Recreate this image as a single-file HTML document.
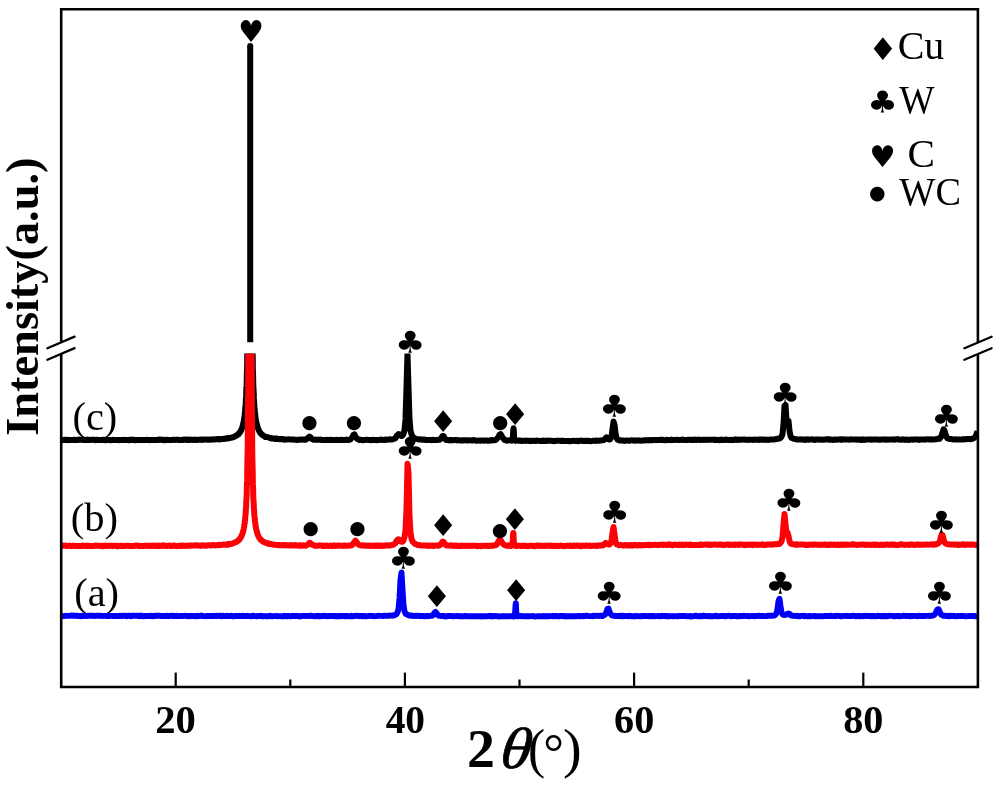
<!DOCTYPE html>
<html lang="en"><head><meta charset="utf-8"><title>XRD patterns</title>
<style>
html,body{margin:0;padding:0;background:#fff;}
body{width:1000px;height:785px;overflow:hidden;position:relative;font-family:"Liberation Serif","DejaVu Serif",serif;}
svg{position:absolute;left:0;top:0;display:block;}
text{fill:#000;}
.s{font-family:"Liberation Serif","DejaVu Serif",serif;}
.y{font-family:"DejaVu Sans","Liberation Sans",sans-serif;}
.m{font-family:"DejaVu Sans Mono","DejaVu Sans",monospace;}
.xl{position:absolute;left:0;top:0;width:0;height:0;color:#000;}
.xl span{position:absolute;display:block;line-height:1;white-space:pre;}
</style></head><body>
<svg width="1000" height="785" viewBox="0 0 1000 785">
<rect x="0" y="0" width="1000" height="785" fill="#fff"/>
<defs><clipPath id="low"><rect x="61.2" y="353.6" width="916.7" height="330"/></clipPath></defs>
<text class="s" transform="translate(72.50 429.71) scale(1.010 1)" font-size="39.96">(c)</text>
<text class="s" transform="translate(70.74 530.80) scale(1.012 1)" font-size="40.02">(b)</text>
<text class="s" transform="translate(74.25 605.60) scale(1.008 1)" font-size="40.02">(a)</text>
<g fill="none" stroke-linejoin="round" stroke-linecap="butt">
<g clip-path="url(#low)"><path d="M61.5 440.0L62.5 440.0L63.5 439.9L64.5 439.8L65.5 439.9L66.5 439.8L67.5 440.0L68.5 440.2L69.5 439.9L70.5 439.9L71.5 440.1L72.5 440.0L73.5 440.0L74.5 439.8L75.5 440.0L76.5 440.1L77.5 439.7L78.5 439.9L79.5 439.6L80.5 439.7L81.5 439.6L82.5 439.9L83.5 439.8L84.5 440.0L85.5 440.0L86.5 439.9L87.5 439.5L88.5 439.9L89.5 440.0L90.5 440.0L91.5 439.7L92.5 439.9L93.5 439.8L94.5 439.8L95.5 440.2L96.5 439.8L97.5 440.0L98.5 440.1L99.5 439.9L100.5 440.0L101.5 440.0L102.5 440.0L103.5 439.8L104.5 440.0L105.5 440.2L106.5 439.7L107.5 440.1L108.5 440.0L109.5 439.9L110.5 440.3L111.5 440.1L112.5 439.8L113.5 440.0L114.5 440.1L115.5 439.9L116.5 440.1L117.5 440.0L118.5 440.1L119.5 440.2L120.5 439.9L121.5 440.0L122.5 439.9L123.5 440.0L124.5 439.8L125.5 439.9L126.5 439.9L127.5 440.1L128.5 440.2L129.5 439.7L130.5 439.8L131.5 440.1L132.5 439.6L133.5 439.9L134.5 440.0L135.5 440.2L136.5 440.1L137.5 439.9L138.5 439.9L139.5 439.9L140.5 440.2L141.5 439.9L142.5 439.9L143.5 440.0L144.5 439.9L145.5 439.9L146.5 439.8L147.5 440.0L148.5 439.9L149.5 440.2L150.5 440.1L151.5 440.0L152.5 440.1L153.5 439.9L154.5 440.1L155.5 440.0L156.5 440.1L157.5 439.7L158.5 440.0L159.5 439.6L160.5 439.6L161.5 439.9L162.5 439.8L163.5 440.0L164.5 440.3L165.5 439.8L166.5 439.8L167.5 440.0L168.5 440.0L169.5 439.9L170.5 439.9L171.5 440.0L172.5 440.0L173.5 439.7L174.5 439.9L175.5 439.9L176.5 439.7L177.5 439.9L178.5 439.7L179.5 440.1L180.5 439.9L181.5 439.9L182.5 439.8L183.5 439.9L184.5 439.5L185.5 439.7L186.5 439.9L187.5 439.5L188.5 440.0L189.5 439.5L190.5 440.0L191.5 439.7L192.5 440.0L193.5 439.8L194.5 439.5L195.5 440.0L196.5 440.0L197.5 439.8L198.5 439.7L199.5 439.7L200.5 439.6L201.5 439.9L202.5 439.6L203.5 439.7L204.5 439.5L205.5 439.5L206.5 439.4L207.5 439.8L208.5 439.6L209.5 439.7L210.5 439.5L211.5 439.4L212.5 439.4L213.5 439.3L214.5 439.4L215.5 439.3L216.5 439.3L217.5 439.0L218.5 439.1L219.5 439.5L220.5 439.0L221.5 438.9L222.5 439.0L223.5 439.1L224.5 438.5L225.5 438.7L226.5 438.5L227.5 438.1L228.5 438.4L229.5 438.1L230.5 437.9L231.5 437.5L232.5 437.5L233.5 437.0L234.5 436.6L235.5 436.0L235.9 435.7L236.1 435.9L236.2 435.8L236.2 435.8L236.3 435.7L236.4 435.6L236.5 435.6L236.6 435.6L236.7 435.5L236.8 435.5L236.8 435.4L236.9 435.3L237.1 435.3L237.2 435.2L237.2 435.1L237.3 435.0L237.4 435.0L237.5 434.9L237.6 434.9L237.7 434.8L237.8 434.7L237.8 434.6L237.9 434.6L238.1 434.4L238.2 434.4L238.2 434.2L238.3 434.2L238.4 434.1L238.5 434.0L238.6 434.0L238.7 433.9L238.8 433.7L238.8 433.6L238.9 433.6L239.1 433.4L239.2 433.3L239.2 433.2L239.3 433.0L239.4 432.9L239.5 432.9L239.6 432.8L239.7 432.7L239.8 432.5L239.8 432.4L239.9 432.2L240.1 432.1L240.2 431.9L240.2 431.8L240.3 431.6L240.4 431.5L240.5 431.4L240.6 431.3L240.7 431.1L240.8 430.9L240.8 430.7L240.9 430.6L241.1 430.3L241.2 430.1L241.2 429.9L241.3 429.7L241.4 429.5L241.5 429.4L241.6 429.2L241.7 429.0L241.8 428.7L241.8 428.5L241.9 428.2L242.1 428.0L242.2 427.7L242.2 427.4L242.3 427.1L242.4 426.7L242.5 426.5L242.6 426.4L242.7 426.0L242.8 425.6L242.8 425.3L242.9 425.0L243.1 424.6L243.2 424.1L243.2 423.7L243.3 423.3L243.4 422.8L243.5 422.5L243.6 422.3L243.7 421.8L243.8 421.3L243.8 420.7L243.9 420.1L244.1 419.5L244.2 418.9L244.2 418.2L244.3 417.5L244.4 416.7L244.5 416.3L244.6 416.0L244.7 415.1L244.8 414.3L244.8 413.4L244.9 412.4L245.1 411.4L245.2 410.3L245.2 409.1L245.3 408.0L245.4 406.7L245.5 406.1L245.6 405.3L245.7 403.9L245.8 402.4L245.8 400.8L245.9 399.0L246.1 397.1L246.2 395.1L246.2 392.9L246.3 390.5L246.4 388.0L246.5 386.7L246.6 385.2L246.7 382.2L246.8 379.0L246.8 375.4L246.9 371.5L247.1 367.2L247.2 362.5L247.2 357.2L247.3 351.4L247.4 344.9L247.5 341.3L247.6 337.6L247.7 329.3L247.8 320.0L247.8 310.0L247.9 310.0L248.1 310.0L248.2 310.0L248.2 310.0L248.3 310.0L248.4 310.0L248.5 310.0L248.6 310.0L248.7 310.0L248.8 310.0L248.8 310.0L248.9 310.0L249.1 310.0L249.2 310.0L249.2 310.0L249.3 310.0L249.4 310.0L249.5 310.0L249.6 310.0L249.7 310.0L249.8 310.0L249.8 310.0L249.9 310.0L250.1 310.0L250.2 310.0L250.2 310.0L250.3 310.0L250.4 310.0L250.5 310.0L250.6 310.0L250.7 310.0L250.8 310.0L250.8 310.0L250.9 310.0L251.1 310.0L251.2 310.0L251.2 310.0L251.3 310.0L251.4 310.0L251.5 310.0L251.6 310.0L251.7 310.0L251.8 310.0L251.8 310.0L251.9 310.0L252.1 310.0L252.2 320.0L252.2 329.3L252.3 337.6L252.4 344.9L252.5 348.2L252.6 351.4L252.7 357.2L252.8 362.5L252.8 367.2L252.9 371.5L253.1 375.4L253.2 378.9L253.2 382.2L253.3 385.2L253.4 388.0L253.5 389.3L253.6 390.5L253.7 392.9L253.8 395.0L253.8 397.1L253.9 399.0L254.1 400.8L254.2 402.4L254.2 403.9L254.3 405.4L254.4 406.7L254.5 407.4L254.6 408.0L254.7 409.2L254.8 410.3L254.8 411.4L254.9 412.4L255.1 413.4L255.2 414.3L255.2 415.1L255.3 416.0L255.4 416.7L255.5 417.1L255.6 417.5L255.7 418.2L255.8 418.8L255.8 419.5L255.9 420.1L256.1 420.7L256.1 421.3L256.2 421.7L256.4 422.3L256.4 422.8L256.5 423.0L256.6 423.2L256.6 423.7L256.8 424.1L256.9 424.5L256.9 424.9L257.1 425.4L257.1 425.7L257.2 426.0L257.4 426.4L257.4 426.8L257.5 426.9L257.6 427.1L257.6 427.4L257.8 427.7L257.9 428.0L257.9 428.2L258.1 428.5L258.1 428.8L258.2 429.0L258.4 429.2L258.4 429.5L258.5 429.6L258.6 429.7L258.6 430.0L258.8 430.2L258.9 430.3L258.9 430.5L259.1 430.7L259.1 430.9L259.2 431.1L259.4 431.3L259.4 431.5L259.5 431.5L259.6 431.6L259.6 431.8L259.8 432.0L259.9 432.1L259.9 432.3L260.1 432.4L260.1 432.5L260.2 432.7L260.4 432.8L260.4 433.0L260.5 433.0L260.6 433.1L260.6 433.2L260.8 433.3L260.9 433.4L260.9 433.5L261.1 433.7L261.1 433.8L261.2 433.9L261.4 434.0L261.4 434.1L261.5 434.1L261.6 434.2L261.6 434.3L261.8 434.3L261.9 434.5L261.9 434.5L262.1 434.6L262.1 434.7L262.2 434.8L262.4 434.9L262.4 434.9L262.5 435.0L262.6 435.0L262.6 435.1L262.8 435.2L262.9 435.3L262.9 435.3L263.1 435.4L263.1 435.5L263.2 435.5L263.4 435.6L263.4 435.6L263.5 435.7L263.6 435.7L263.6 435.8L263.8 435.9L263.9 435.9L264.5 436.3L265.5 437.1L266.5 436.9L267.5 437.2L268.5 437.5L269.5 437.7L270.5 438.3L271.5 438.5L272.5 438.3L273.5 438.4L274.5 438.7L275.5 439.1L276.5 438.4L277.5 439.1L278.5 438.9L279.5 439.3L280.5 439.0L281.5 439.2L282.5 439.0L283.5 439.2L284.5 439.7L285.5 439.6L286.5 439.4L287.5 439.4L288.5 439.2L289.5 439.5L290.5 439.6L291.5 439.6L292.5 439.6L293.5 439.5L294.5 439.7L295.5 439.7L296.5 439.9L297.5 440.0L298.5 439.7L299.5 439.6L300.5 439.7L301.5 439.6L302.5 439.6L303.5 439.7L304.5 439.5L305.5 439.7L306.5 439.3L307.5 438.7L308.5 437.4L309.5 436.6L310.5 437.3L311.5 438.6L312.5 439.3L313.5 439.7L314.5 439.7L315.5 439.6L316.5 439.8L317.5 439.6L318.5 439.8L319.5 439.8L320.5 439.5L321.5 439.9L322.5 440.0L323.5 439.9L324.5 439.9L325.5 439.9L326.5 439.8L327.5 439.9L328.5 439.9L329.5 440.0L330.5 439.8L331.5 440.0L332.5 440.0L333.5 439.9L334.5 439.9L335.5 440.1L336.5 439.7L337.5 440.1L338.5 440.0L339.5 440.0L340.5 440.0L341.5 439.8L342.5 439.9L343.5 440.1L344.5 440.0L345.5 439.9L346.5 439.6L347.5 439.9L348.5 439.9L349.5 439.8L350.5 439.3L351.5 438.1L352.5 436.9L353.5 434.8L354.5 434.4L355.5 436.8L356.5 438.1L357.5 439.0L358.5 439.5L359.5 440.0L360.5 439.8L361.5 439.9L362.5 440.2L363.5 440.2L364.5 439.9L365.5 439.9L366.5 439.7L367.5 439.8L368.5 440.1L369.5 440.1L370.5 440.0L371.5 440.2L372.5 439.8L373.5 440.0L374.5 440.1L375.5 440.1L376.5 440.2L377.5 440.0L378.5 439.9L379.5 440.0L380.5 439.7L381.5 439.6L382.5 440.0L383.5 439.9L384.5 439.9L385.5 439.5L386.5 439.7L387.5 439.7L388.5 439.6L389.5 439.3L390.5 439.5L391.5 439.6L392.5 439.4L393.5 439.0L394.5 438.7L395.5 438.1L396.5 436.1L397.5 435.0L398.5 434.0L399.5 434.3L400.5 435.5L401.5 436.0L402.5 435.5L403.5 434.0L404.5 430.3L405.5 418.9L406.5 386.7L407.5 353.1L408.5 387.1L409.5 419.1L410.5 430.4L411.5 434.4L412.5 436.6L413.5 437.4L414.5 438.4L415.5 438.4L416.5 438.9L417.5 439.1L418.5 439.4L419.5 439.6L420.5 439.3L421.5 439.5L422.5 439.8L423.5 439.6L424.5 439.5L425.5 440.0L426.5 440.0L427.5 440.0L428.5 439.9L429.5 440.1L430.5 439.9L431.5 440.2L432.5 439.8L433.5 439.9L434.5 440.0L435.5 439.9L436.5 440.1L437.5 440.0L438.5 439.7L439.5 439.7L440.5 439.0L441.5 437.9L442.5 435.9L443.5 436.0L444.5 437.9L445.5 439.5L446.5 440.1L447.5 440.0L448.5 440.1L449.5 440.4L450.5 440.1L451.5 440.0L452.5 440.2L453.5 440.3L454.5 440.1L455.5 440.0L456.5 440.0L457.5 440.4L458.5 440.2L459.5 440.3L460.5 440.4L461.5 440.5L462.5 440.3L463.5 440.5L464.5 440.2L465.5 440.3L466.5 440.2L467.5 440.6L468.5 440.4L469.5 440.3L470.5 440.3L471.5 440.4L472.5 440.6L473.5 440.1L474.5 440.2L475.5 440.4L476.5 440.9L477.5 440.6L478.5 440.4L479.5 440.6L480.5 440.8L481.5 440.4L482.5 440.4L483.5 440.7L484.5 440.6L485.5 440.6L486.5 440.4L487.5 440.8L488.5 440.7L489.5 440.5L490.5 440.5L491.5 440.0L492.5 440.4L493.5 440.2L494.5 440.2L495.5 440.1L496.5 439.4L497.5 438.2L498.5 436.8L499.5 434.7L500.5 434.1L501.5 435.5L502.5 437.5L503.5 438.6L504.5 440.0L505.5 440.2L506.5 440.5L507.5 440.7L508.5 440.4L509.5 440.2L510.5 440.3L510.8 440.3L511 440.4L511.2 440.5L511.5 440.1L511.8 440.5L512 440.1L512.2 440.4L512.5 440.0L512.8 438.7L513 435.6L513.2 430.9L513.5 428.3L513.8 430.7L514 435.7L514.2 439.2L514.5 440.4L514.8 440.6L515 440.6L515.2 440.4L515.5 440.8L515.8 440.6L516 440.6L516.2 440.6L516.5 440.6L517.5 440.6L518.5 440.7L519.5 440.5L520.5 440.6L521.5 441.1L522.5 440.7L523.5 440.7L524.5 440.8L525.5 440.9L526.5 440.6L527.5 440.7L528.5 440.9L529.5 440.8L530.5 440.8L531.5 441.1L532.5 440.7L533.5 440.8L534.5 440.7L535.5 441.1L536.5 440.5L537.5 440.7L538.5 440.7L539.5 441.0L540.5 441.0L541.5 441.1L542.5 440.6L543.5 441.0L544.5 440.8L545.5 440.8L546.5 441.0L547.5 440.7L548.5 440.5L549.5 440.8L550.5 440.6L551.5 440.8L552.5 441.0L553.5 441.0L554.5 441.2L555.5 440.9L556.5 440.7L557.5 440.8L558.5 440.8L559.5 440.7L560.5 441.0L561.5 440.9L562.5 440.6L563.5 441.1L564.5 440.9L565.5 441.0L566.5 441.0L567.5 441.1L568.5 441.0L569.5 441.2L570.5 441.0L571.5 441.0L572.5 441.0L573.5 440.7L574.5 440.9L575.5 440.9L576.5 441.0L577.5 440.7L578.5 441.2L579.5 440.9L580.5 440.7L581.5 440.6L582.5 440.9L583.5 440.9L584.5 440.8L585.5 440.9L586.5 440.8L587.5 441.0L588.5 440.8L589.5 440.9L590.5 441.1L591.5 441.3L592.5 440.7L593.5 440.8L594.5 440.7L595.5 441.0L596.5 440.6L597.5 440.7L598.5 440.8L599.5 440.6L600.5 440.5L601.5 440.5L602.5 440.2L603.5 440.0L604.5 439.5L605.5 438.2L606.5 437.3L607.5 438.2L608.5 439.4L609.5 439.6L610.5 438.8L611.5 436.1L612.5 429.1L613.5 421.4L614.5 424.6L615.5 433.1L616.5 437.8L617.5 439.7L618.5 440.0L619.5 440.4L620.5 440.3L621.5 440.6L622.5 440.4L623.5 440.5L624.5 441.0L625.5 440.7L626.5 440.5L627.5 440.6L628.5 440.6L629.5 440.8L630.5 440.5L631.5 440.2L632.5 440.5L633.5 440.5L634.5 440.5L635.5 440.7L636.5 440.5L637.5 440.6L638.5 440.2L639.5 440.6L640.5 440.8L641.5 440.5L642.5 440.4L643.5 440.4L644.5 440.6L645.5 440.1L646.5 440.3L647.5 440.3L648.5 440.4L649.5 440.1L650.5 440.2L651.5 440.1L652.5 440.2L653.5 440.1L654.5 439.9L655.5 440.1L656.5 440.2L657.5 439.9L658.5 440.0L659.5 440.1L660.5 439.8L661.5 440.0L662.5 439.7L663.5 440.1L664.5 440.3L665.5 440.2L666.5 439.8L667.5 440.0L668.5 439.9L669.5 439.9L670.5 440.2L671.5 439.6L672.5 440.1L673.5 439.9L674.5 440.1L675.5 439.9L676.5 439.7L677.5 439.9L678.5 440.0L679.5 439.9L680.5 439.9L681.5 439.8L682.5 439.5L683.5 440.0L684.5 440.0L685.5 439.9L686.5 439.9L687.5 440.0L688.5 439.8L689.5 439.7L690.5 439.8L691.5 440.1L692.5 439.6L693.5 440.1L694.5 439.7L695.5 439.6L696.5 440.1L697.5 439.8L698.5 439.6L699.5 439.8L700.5 440.0L701.5 440.0L702.5 439.7L703.5 439.9L704.5 440.0L705.5 439.7L706.5 439.9L707.5 439.8L708.5 439.7L709.5 439.7L710.5 439.8L711.5 439.8L712.5 439.7L713.5 439.7L714.5 440.0L715.5 439.8L716.5 440.0L717.5 440.0L718.5 439.9L719.5 440.2L720.5 439.6L721.5 439.9L722.5 439.7L723.5 440.1L724.5 440.1L725.5 439.4L726.5 439.6L727.5 439.9L728.5 439.9L729.5 439.9L730.5 439.8L731.5 439.9L732.5 439.9L733.5 439.8L734.5 440.0L735.5 439.4L736.5 439.9L737.5 439.6L738.5 439.9L739.5 439.7L740.5 439.6L741.5 439.8L742.5 439.6L743.5 439.6L744.5 439.5L745.5 439.7L746.5 439.8L747.5 439.9L748.5 439.7L749.5 439.9L750.5 439.7L751.5 439.7L752.5 439.8L753.5 439.9L754.5 439.6L755.5 439.7L756.5 439.7L757.5 439.7L758.5 439.5L759.5 439.9L760.5 439.6L761.5 439.7L762.5 439.5L763.5 439.7L764.5 439.7L765.5 439.5L766.5 440.0L767.5 439.7L768.5 439.9L769.5 439.7L770.5 439.4L771.5 439.4L772.5 439.5L773.5 439.4L774.5 439.4L775.5 439.2L776.5 438.8L777.5 439.0L778.5 438.4L779.5 438.5L780.5 437.8L781.5 436.8L782.5 434.0L783.5 424.3L784.5 405.8L785.5 404.9L786.5 419.7L787.5 421.0L788.5 420.9L789.5 430.8L790.5 435.9L791.5 437.9L792.5 438.2L793.5 438.8L794.5 438.9L795.5 439.1L796.5 439.3L797.5 439.6L798.5 439.4L799.5 439.4L800.5 439.3L801.5 439.6L802.5 439.5L803.5 439.7L804.5 439.5L805.5 439.9L806.5 439.2L807.5 439.5L808.5 439.7L809.5 439.5L810.5 439.4L811.5 439.5L812.5 439.3L813.5 439.6L814.5 440.0L815.5 439.8L816.5 439.4L817.5 439.5L818.5 439.5L819.5 439.8L820.5 439.5L821.5 439.5L822.5 439.8L823.5 439.8L824.5 439.5L825.5 439.4L826.5 439.3L827.5 439.5L828.5 439.2L829.5 439.7L830.5 439.5L831.5 439.7L832.5 439.9L833.5 439.8L834.5 439.4L835.5 439.8L836.5 439.8L837.5 439.5L838.5 439.4L839.5 439.6L840.5 439.3L841.5 439.9L842.5 439.2L843.5 439.4L844.5 439.6L845.5 439.6L846.5 439.6L847.5 439.6L848.5 439.6L849.5 439.8L850.5 439.2L851.5 439.6L852.5 439.5L853.5 439.6L854.5 439.6L855.5 439.4L856.5 439.5L857.5 439.7L858.5 439.6L859.5 439.5L860.5 439.9L861.5 440.0L862.5 439.3L863.5 439.6L864.5 440.0L865.5 439.7L866.5 439.6L867.5 439.5L868.5 439.5L869.5 439.5L870.5 439.5L871.5 439.7L872.5 439.5L873.5 439.5L874.5 439.4L875.5 439.6L876.5 439.4L877.5 439.5L878.5 439.8L879.5 439.6L880.5 439.7L881.5 439.6L882.5 439.6L883.5 439.6L884.5 439.5L885.5 439.7L886.5 439.4L887.5 439.8L888.5 439.6L889.5 439.4L890.5 439.5L891.5 439.5L892.5 439.6L893.5 439.4L894.5 439.8L895.5 439.4L896.5 439.2L897.5 439.4L898.5 439.2L899.5 439.6L900.5 439.8L901.5 439.7L902.5 439.3L903.5 439.4L904.5 439.9L905.5 439.6L906.5 439.6L907.5 439.8L908.5 440.0L909.5 439.8L910.5 439.6L911.5 439.6L912.5 439.7L913.5 439.5L914.5 439.4L915.5 439.6L916.5 439.4L917.5 439.5L918.5 439.6L919.5 440.0L920.5 439.4L921.5 439.5L922.5 439.5L923.5 439.6L924.5 439.7L925.5 439.4L926.5 439.4L927.5 439.2L928.5 439.3L929.5 439.6L930.5 439.5L931.5 439.3L932.5 439.4L933.5 439.4L934.5 439.5L935.5 439.2L936.5 439.2L937.5 438.8L938.5 438.7L939.5 438.9L940.5 437.4L941.5 435.8L942.5 432.5L943.5 429.4L944.5 430.5L945.5 434.3L946.5 437.0L947.5 438.3L948.5 438.5L949.5 439.0L950.5 439.0L951.5 439.1L952.5 439.3L953.5 439.4L954.5 439.5L955.5 439.3L956.5 439.6L957.5 439.6L958.5 439.6L959.5 439.6L960.5 439.4L961.5 439.4L962.5 439.5L963.5 439.1L964.5 439.4L965.5 439.2L966.5 439.2L967.5 438.9L968.5 439.0L969.5 439.1L970.5 439.2L971.5 439.0L972.5 438.6L973.5 438.3L974.5 437.5L975.5 436.4L976.5 434.1L977.5 431.2" stroke="#000" stroke-width="6"/></g>
<path d="M250.2 342.2V46" stroke="#000" stroke-width="6"/>
<circle cx="250.2" cy="46" r="3" fill="#000" stroke="none"/>
<g clip-path="url(#low)"><path d="M61.5 546.2L62.5 545.9L63.5 545.6L64.5 545.7L65.5 545.6L66.5 545.7L67.5 546.1L68.5 545.9L69.5 545.6L70.5 546.0L71.5 546.1L72.5 545.8L73.5 545.8L74.5 545.8L75.5 545.9L76.5 546.0L77.5 546.1L78.5 546.1L79.5 546.1L80.5 546.1L81.5 546.0L82.5 545.6L83.5 545.8L84.5 545.9L85.5 545.8L86.5 546.0L87.5 545.8L88.5 545.7L89.5 546.1L90.5 546.0L91.5 545.9L92.5 546.0L93.5 546.1L94.5 545.9L95.5 545.4L96.5 545.7L97.5 545.8L98.5 545.7L99.5 545.9L100.5 546.1L101.5 545.8L102.5 545.7L103.5 546.2L104.5 545.8L105.5 545.6L106.5 545.9L107.5 545.9L108.5 545.7L109.5 546.0L110.5 545.8L111.5 545.7L112.5 545.9L113.5 546.0L114.5 545.7L115.5 545.9L116.5 545.8L117.5 546.4L118.5 545.7L119.5 546.1L120.5 545.8L121.5 545.8L122.5 546.0L123.5 546.0L124.5 546.1L125.5 545.9L126.5 545.7L127.5 545.7L128.5 545.9L129.5 545.9L130.5 546.1L131.5 545.9L132.5 546.0L133.5 546.1L134.5 545.9L135.5 545.6L136.5 545.6L137.5 545.6L138.5 546.1L139.5 545.7L140.5 546.1L141.5 545.9L142.5 546.1L143.5 546.0L144.5 545.8L145.5 545.8L146.5 545.8L147.5 545.9L148.5 545.7L149.5 545.8L150.5 546.1L151.5 545.5L152.5 545.9L153.5 545.7L154.5 545.8L155.5 546.0L156.5 545.8L157.5 545.9L158.5 545.5L159.5 546.0L160.5 545.7L161.5 545.9L162.5 545.8L163.5 545.3L164.5 545.7L165.5 545.8L166.5 546.1L167.5 545.8L168.5 545.8L169.5 545.5L170.5 546.0L171.5 546.1L172.5 545.8L173.5 545.7L174.5 545.5L175.5 545.9L176.5 546.2L177.5 545.9L178.5 546.0L179.5 545.8L180.5 545.6L181.5 546.0L182.5 545.5L183.5 545.7L184.5 545.8L185.5 545.9L186.5 545.8L187.5 545.8L188.5 545.6L189.5 545.5L190.5 545.7L191.5 545.5L192.5 545.4L193.5 545.4L194.5 545.6L195.5 545.3L196.5 545.4L197.5 545.3L198.5 545.6L199.5 545.7L200.5 545.9L201.5 545.3L202.5 545.4L203.5 545.7L204.5 545.5L205.5 545.4L206.5 545.8L207.5 545.4L208.5 545.2L209.5 545.2L210.5 545.5L211.5 545.4L212.5 545.1L213.5 545.1L214.5 545.4L215.5 545.3L216.5 545.1L217.5 545.3L218.5 545.2L219.5 544.7L220.5 544.9L221.5 545.0L222.5 544.8L223.5 544.4L224.5 544.7L225.5 544.7L226.5 544.8L227.5 544.0L228.5 544.7L229.5 543.9L230.5 544.1L231.5 543.9L232.5 543.6L233.5 543.1L234.5 542.5L235.5 542.4L235.9 542.0L236.1 542.0L236.2 542.0L236.2 541.9L236.3 541.9L236.4 541.8L236.5 541.8L236.6 541.8L236.7 541.7L236.8 541.6L236.8 541.5L236.9 541.5L237.1 541.4L237.2 541.3L237.2 541.3L237.3 541.2L237.4 541.2L237.5 541.1L237.6 541.1L237.7 541.0L237.8 540.9L237.8 540.9L237.9 540.8L238.1 540.7L238.2 540.6L238.2 540.5L238.3 540.4L238.4 540.3L238.5 540.3L238.6 540.3L238.7 540.2L238.8 540.1L238.8 540.0L238.9 539.8L239.1 539.7L239.2 539.7L239.2 539.6L239.3 539.4L239.4 539.3L239.5 539.3L239.6 539.2L239.7 539.1L239.8 539.0L239.8 538.8L239.9 538.7L240.1 538.5L240.2 538.4L240.2 538.2L240.3 538.1L240.4 537.9L240.5 537.9L240.6 537.8L240.7 537.7L240.8 537.5L240.8 537.3L240.9 537.1L241.1 536.9L241.2 536.8L241.2 536.6L241.3 536.4L241.4 536.2L241.5 536.1L241.6 535.9L241.7 535.8L241.8 535.5L241.8 535.2L241.9 535.1L242.1 534.8L242.2 534.5L242.2 534.2L242.3 534.0L242.4 533.7L242.5 533.5L242.6 533.4L242.7 533.1L242.8 532.7L242.8 532.4L242.9 532.1L243.1 531.7L243.2 531.3L243.2 530.9L243.3 530.5L243.4 530.1L243.5 529.9L243.6 529.6L243.7 529.2L243.8 528.7L243.8 528.2L243.9 527.7L244.1 527.1L244.2 526.5L244.2 525.9L244.3 525.3L244.4 524.6L244.5 524.3L244.6 523.9L244.7 523.2L244.8 522.4L244.8 521.7L244.9 520.8L245.1 519.8L245.2 518.9L245.2 517.8L245.3 516.8L245.4 515.6L245.5 515.0L245.6 514.4L245.7 513.2L245.8 511.8L245.8 510.3L245.9 508.7L246.1 507.1L246.2 505.2L246.2 503.3L246.3 501.2L246.4 498.9L246.5 497.7L246.6 496.5L246.7 493.8L246.8 490.9L246.8 487.7L246.9 484.3L247.1 480.4L247.2 476.2L247.2 471.6L247.3 466.4L247.4 460.6L247.5 457.4L247.6 454.1L247.7 446.8L247.8 438.5L247.8 429.1L247.9 418.2L248.1 405.7L248.2 391.3L248.2 374.2L248.3 354.1L248.4 330.1L248.5 316.3L248.6 310.0L248.7 310.0L248.8 310.0L248.8 310.0L248.9 310.0L249.1 310.0L249.2 310.0L249.2 310.0L249.3 310.0L249.4 310.0L249.5 310.0L249.6 310.0L249.7 310.0L249.8 310.0L249.8 310.0L249.9 310.0L250.1 310.0L250.2 310.0L250.2 310.0L250.3 310.0L250.4 310.0L250.5 310.0L250.6 310.0L250.7 310.0L250.8 310.0L250.8 310.0L250.9 310.0L251.1 310.0L251.2 310.0L251.2 310.0L251.3 310.0L251.4 330.1L251.5 342.7L251.6 354.1L251.7 374.2L251.8 391.2L251.8 405.8L251.9 418.3L252.1 429.1L252.2 438.5L252.2 446.8L252.3 454.1L252.4 460.6L252.5 463.6L252.6 466.3L252.7 471.5L252.8 476.2L252.8 480.4L252.9 484.2L253.1 487.7L253.2 490.9L253.2 493.8L253.3 496.4L253.4 498.9L253.5 500.1L253.6 501.2L253.7 503.3L253.8 505.2L253.8 507.0L253.9 508.8L254.1 510.3L254.2 511.8L254.2 513.2L254.3 514.4L254.4 515.6L254.5 516.2L254.6 516.8L254.7 517.8L254.8 518.9L254.8 519.8L254.9 520.7L255.1 521.6L255.2 522.4L255.2 523.2L255.3 523.9L255.4 524.6L255.5 525.0L255.6 525.3L255.7 525.9L255.8 526.6L255.8 527.1L255.9 527.7L256.1 528.2L256.1 528.7L256.2 529.2L256.4 529.6L256.4 530.1L256.5 530.3L256.6 530.5L256.6 530.9L256.8 531.3L256.9 531.7L256.9 532.0L257.1 532.4L257.1 532.7L257.2 533.1L257.4 533.4L257.4 533.7L257.5 533.8L257.6 534.0L257.6 534.2L257.8 534.5L257.9 534.8L257.9 535.0L258.1 535.3L258.1 535.5L258.2 535.7L258.4 535.9L258.4 536.2L258.5 536.3L258.6 536.4L258.6 536.6L258.8 536.8L258.9 536.9L258.9 537.2L259.1 537.3L259.1 537.5L259.2 537.6L259.4 537.8L259.4 538.0L259.5 538.0L259.6 538.2L259.6 538.3L259.8 538.4L259.9 538.6L259.9 538.7L260.1 538.8L260.1 538.9L260.2 539.1L260.4 539.2L260.4 539.3L260.5 539.4L260.6 539.4L260.6 539.5L260.8 539.7L260.9 539.8L260.9 539.9L261.1 539.9L261.1 540.1L261.2 540.2L261.4 540.3L261.4 540.3L261.5 540.4L261.6 540.4L261.6 540.5L261.8 540.6L261.9 540.7L261.9 540.8L262.1 540.9L262.1 540.9L262.2 541.0L262.4 541.1L262.4 541.1L262.5 541.2L262.6 541.2L262.6 541.3L262.8 541.4L262.9 541.4L262.9 541.5L263.1 541.6L263.1 541.6L263.2 541.7L263.4 541.7L263.4 541.8L263.5 541.8L263.6 541.8L263.6 541.9L263.8 542.0L263.9 542.0L264.5 542.2L265.5 542.6L266.5 543.0L267.5 543.5L268.5 543.3L269.5 544.1L270.5 544.0L271.5 544.1L272.5 544.4L273.5 544.7L274.5 544.7L275.5 544.9L276.5 544.8L277.5 545.1L278.5 545.2L279.5 545.0L280.5 545.3L281.5 545.1L282.5 545.2L283.5 545.0L284.5 545.2L285.5 545.4L286.5 545.1L287.5 545.4L288.5 545.4L289.5 545.4L290.5 545.0L291.5 545.4L292.5 545.6L293.5 545.3L294.5 545.5L295.5 545.1L296.5 545.6L297.5 545.4L298.5 545.7L299.5 545.2L300.5 545.7L301.5 545.5L302.5 545.7L303.5 545.3L304.5 545.4L305.5 545.8L306.5 545.1L307.5 544.8L308.5 543.9L309.5 542.7L310.5 543.1L311.5 544.3L312.5 544.8L313.5 545.0L314.5 545.7L315.5 545.8L316.5 545.7L317.5 545.8L318.5 545.5L319.5 545.6L320.5 545.4L321.5 545.4L322.5 545.9L323.5 545.6L324.5 546.1L325.5 545.7L326.5 545.6L327.5 545.9L328.5 546.1L329.5 545.8L330.5 545.5L331.5 545.8L332.5 546.0L333.5 545.6L334.5 545.6L335.5 545.9L336.5 545.8L337.5 545.5L338.5 545.7L339.5 545.6L340.5 545.8L341.5 545.7L342.5 545.9L343.5 545.8L344.5 545.4L345.5 545.8L346.5 545.8L347.5 545.7L348.5 545.8L349.5 545.4L350.5 545.3L351.5 545.4L352.5 544.6L353.5 543.2L354.5 542.0L355.5 540.6L356.5 541.8L357.5 543.3L358.5 544.5L359.5 545.0L360.5 545.4L361.5 545.6L362.5 545.2L363.5 545.8L364.5 545.4L365.5 545.5L366.5 545.8L367.5 545.7L368.5 545.4L369.5 546.0L370.5 545.6L371.5 545.8L372.5 545.7L373.5 546.0L374.5 545.6L375.5 545.9L376.5 545.6L377.5 545.9L378.5 545.5L379.5 545.6L380.5 546.0L381.5 545.7L382.5 545.6L383.5 546.0L384.5 545.6L385.5 545.4L386.5 545.6L387.5 545.2L388.5 545.6L389.5 545.6L390.5 545.2L391.5 545.0L392.5 545.0L393.5 544.7L394.5 543.9L395.5 543.1L396.5 541.1L397.5 539.7L398.5 539.2L399.5 540.1L400.5 541.4L401.5 541.7L402.5 541.7L403.5 540.3L404.5 537.3L405.5 530.2L406.5 509.0L407.5 463.7L408.5 472.6L409.5 515.6L410.5 532.8L411.5 538.7L412.5 541.4L413.5 542.5L414.5 543.3L415.5 544.2L416.5 544.5L417.5 544.9L418.5 544.9L419.5 545.3L420.5 545.3L421.5 545.4L422.5 545.4L423.5 545.5L424.5 545.5L425.5 545.5L426.5 545.7L427.5 545.5L428.5 545.9L429.5 545.6L430.5 545.8L431.5 545.6L432.5 545.6L433.5 546.0L434.5 545.6L435.5 545.4L436.5 545.4L437.5 545.5L438.5 545.8L439.5 545.3L440.5 544.8L441.5 543.1L442.5 541.7L443.5 541.7L444.5 543.6L445.5 544.5L446.5 545.4L447.5 545.5L448.5 545.4L449.5 545.6L450.5 545.6L451.5 545.3L452.5 545.8L453.5 545.9L454.5 545.7L455.5 545.5L456.5 546.0L457.5 545.8L458.5 546.0L459.5 546.1L460.5 545.7L461.5 546.0L462.5 545.8L463.5 545.8L464.5 545.8L465.5 545.8L466.5 546.0L467.5 545.8L468.5 545.8L469.5 545.8L470.5 545.9L471.5 545.7L472.5 545.7L473.5 545.8L474.5 545.7L475.5 545.8L476.5 545.7L477.5 546.2L478.5 546.1L479.5 545.9L480.5 545.8L481.5 546.2L482.5 545.9L483.5 545.8L484.5 545.8L485.5 545.8L486.5 546.0L487.5 545.8L488.5 546.1L489.5 545.6L490.5 545.8L491.5 545.5L492.5 545.9L493.5 545.4L494.5 545.3L495.5 545.2L496.5 544.7L497.5 543.0L498.5 541.5L499.5 539.8L500.5 540.1L501.5 541.5L502.5 543.2L503.5 544.3L504.5 545.0L505.5 545.2L506.5 545.6L507.5 545.9L508.5 545.3L509.5 545.6L510.3 545.6L510.5 545.8L510.6 545.5L510.8 545.6L511.1 545.5L511.3 545.8L511.5 545.6L511.6 545.6L511.8 545.6L512 545.4L512.3 544.9L512.5 544.3L512.5 543.9L512.8 540.5L513 535.7L513.3 533.0L513.5 534.4L513.5 535.4L513.8 540.8L514 544.1L514.3 545.0L514.5 545.3L514.5 545.4L514.8 545.5L515 545.4L515.3 545.7L515.5 545.5L515.5 545.5L515.8 545.9L516 545.6L516.3 545.7L516.5 545.9L517.5 545.9L518.5 545.7L519.5 545.8L520.5 545.7L521.5 546.1L522.5 546.0L523.5 545.6L524.5 545.8L525.5 546.0L526.5 545.9L527.5 546.2L528.5 546.1L529.5 545.8L530.5 545.8L531.5 545.6L532.5 545.9L533.5 545.9L534.5 546.3L535.5 545.9L536.5 545.5L537.5 545.7L538.5 545.9L539.5 545.6L540.5 545.7L541.5 545.8L542.5 545.9L543.5 545.8L544.5 545.7L545.5 546.0L546.5 545.8L547.5 545.8L548.5 545.6L549.5 545.7L550.5 546.0L551.5 545.6L552.5 545.9L553.5 546.0L554.5 545.8L555.5 545.9L556.5 545.7L557.5 546.1L558.5 546.1L559.5 545.9L560.5 545.6L561.5 545.7L562.5 546.0L563.5 546.2L564.5 545.9L565.5 546.1L566.5 545.7L567.5 545.8L568.5 545.8L569.5 545.9L570.5 545.6L571.5 546.0L572.5 546.1L573.5 545.6L574.5 545.6L575.5 545.9L576.5 545.7L577.5 545.4L578.5 545.9L579.5 545.8L580.5 545.7L581.5 546.2L582.5 545.8L583.5 545.6L584.5 545.8L585.5 545.6L586.5 545.6L587.5 545.8L588.5 545.6L589.5 545.6L590.5 546.0L591.5 545.9L592.5 545.8L593.5 545.8L594.5 545.8L595.5 545.9L596.5 545.6L597.5 546.0L598.5 545.4L599.5 545.5L600.5 545.3L601.5 545.4L602.5 545.4L603.5 545.2L604.5 543.9L605.5 543.0L606.5 543.2L607.5 544.0L608.5 544.4L609.5 544.5L610.5 543.4L611.5 540.7L612.5 532.8L613.5 527.0L614.5 534.5L615.5 541.4L616.5 544.3L617.5 544.4L618.5 545.2L619.5 545.2L620.5 545.1L621.5 545.0L622.5 545.4L623.5 545.6L624.5 545.1L625.5 545.2L626.5 545.5L627.5 545.3L628.5 545.6L629.5 545.2L630.5 545.4L631.5 545.0L632.5 545.6L633.5 545.1L634.5 544.8L635.5 545.2L636.5 545.2L637.5 545.5L638.5 545.1L639.5 545.1L640.5 545.2L641.5 545.4L642.5 545.1L643.5 545.3L644.5 545.1L645.5 545.0L646.5 545.0L647.5 545.0L648.5 544.8L649.5 545.2L650.5 544.7L651.5 545.1L652.5 545.1L653.5 544.9L654.5 544.7L655.5 544.8L656.5 544.9L657.5 545.0L658.5 544.9L659.5 545.0L660.5 544.7L661.5 544.8L662.5 544.5L663.5 544.9L664.5 544.8L665.5 544.7L666.5 545.0L667.5 544.9L668.5 544.3L669.5 544.8L670.5 544.5L671.5 545.0L672.5 545.2L673.5 544.7L674.5 544.8L675.5 544.7L676.5 544.8L677.5 544.9L678.5 545.0L679.5 544.6L680.5 545.1L681.5 544.6L682.5 544.8L683.5 545.0L684.5 544.9L685.5 544.6L686.5 544.7L687.5 544.7L688.5 544.8L689.5 545.0L690.5 544.5L691.5 544.9L692.5 544.9L693.5 544.9L694.5 544.9L695.5 545.0L696.5 544.9L697.5 544.9L698.5 544.9L699.5 545.1L700.5 544.4L701.5 545.0L702.5 544.7L703.5 544.7L704.5 544.6L705.5 544.4L706.5 544.7L707.5 544.6L708.5 544.9L709.5 544.5L710.5 545.0L711.5 544.8L712.5 544.7L713.5 544.6L714.5 544.6L715.5 544.6L716.5 544.7L717.5 544.8L718.5 544.7L719.5 544.5L720.5 544.7L721.5 544.6L722.5 544.8L723.5 545.1L724.5 544.9L725.5 544.7L726.5 544.5L727.5 544.5L728.5 544.5L729.5 544.9L730.5 544.6L731.5 544.8L732.5 544.6L733.5 544.8L734.5 545.0L735.5 544.6L736.5 544.7L737.5 544.6L738.5 544.9L739.5 544.6L740.5 544.5L741.5 544.5L742.5 544.5L743.5 544.8L744.5 545.2L745.5 544.6L746.5 544.9L747.5 544.8L748.5 544.5L749.5 544.7L750.5 544.7L751.5 544.6L752.5 545.1L753.5 544.4L754.5 544.8L755.5 544.8L756.5 544.6L757.5 544.7L758.5 544.9L759.5 544.7L760.5 544.8L761.5 544.8L762.5 544.3L763.5 545.0L764.5 545.1L765.5 544.8L766.5 544.8L767.5 544.4L768.5 544.6L769.5 544.5L770.5 544.5L771.5 544.7L772.5 544.4L773.5 544.5L774.5 544.1L775.5 544.3L776.5 544.3L777.5 544.0L778.5 543.8L779.5 543.9L780.5 542.8L781.5 541.6L782.5 537.2L783.5 525.1L784.5 514.0L785.5 524.1L786.5 533.3L787.5 532.4L788.5 535.9L789.5 541.0L790.5 543.4L791.5 544.0L792.5 544.0L793.5 544.3L794.5 544.5L795.5 544.7L796.5 544.3L797.5 544.7L798.5 544.5L799.5 544.4L800.5 544.6L801.5 544.6L802.5 544.5L803.5 544.4L804.5 544.5L805.5 544.9L806.5 545.0L807.5 544.8L808.5 544.9L809.5 544.6L810.5 544.7L811.5 544.7L812.5 544.5L813.5 544.5L814.5 544.7L815.5 544.6L816.5 544.5L817.5 544.8L818.5 544.7L819.5 544.9L820.5 544.7L821.5 544.7L822.5 544.7L823.5 544.7L824.5 544.6L825.5 544.6L826.5 544.9L827.5 544.8L828.5 545.0L829.5 544.4L830.5 544.7L831.5 544.6L832.5 544.8L833.5 544.6L834.5 544.6L835.5 544.9L836.5 544.8L837.5 544.5L838.5 545.0L839.5 544.9L840.5 544.6L841.5 544.9L842.5 544.6L843.5 544.9L844.5 544.7L845.5 544.6L846.5 544.7L847.5 544.6L848.5 544.8L849.5 544.8L850.5 544.7L851.5 544.6L852.5 544.1L853.5 544.7L854.5 544.4L855.5 544.8L856.5 544.9L857.5 544.8L858.5 544.7L859.5 544.7L860.5 544.7L861.5 544.6L862.5 544.6L863.5 544.6L864.5 544.9L865.5 544.7L866.5 544.9L867.5 544.7L868.5 544.7L869.5 544.7L870.5 544.8L871.5 544.9L872.5 544.8L873.5 544.6L874.5 544.6L875.5 545.0L876.5 544.7L877.5 544.7L878.5 545.0L879.5 544.9L880.5 544.8L881.5 544.6L882.5 545.1L883.5 544.8L884.5 544.8L885.5 544.7L886.5 544.5L887.5 544.5L888.5 544.8L889.5 544.8L890.5 544.7L891.5 544.5L892.5 544.5L893.5 544.7L894.5 544.5L895.5 544.9L896.5 544.9L897.5 545.2L898.5 544.9L899.5 544.6L900.5 544.6L901.5 544.1L902.5 544.6L903.5 544.7L904.5 544.9L905.5 544.8L906.5 544.8L907.5 544.7L908.5 544.8L909.5 545.0L910.5 544.5L911.5 544.6L912.5 544.4L913.5 545.0L914.5 544.9L915.5 544.8L916.5 544.5L917.5 544.7L918.5 544.6L919.5 544.7L920.5 544.6L921.5 544.8L922.5 544.6L923.5 544.8L924.5 544.7L925.5 544.6L926.5 544.6L927.5 544.6L928.5 544.8L929.5 544.6L930.5 544.6L931.5 544.5L932.5 544.3L933.5 544.7L934.5 544.2L935.5 544.5L936.5 544.3L937.5 543.7L938.5 543.3L939.5 541.9L940.5 538.7L941.5 534.7L942.5 535.1L943.5 538.8L944.5 542.1L945.5 543.4L946.5 544.0L947.5 544.1L948.5 544.3L949.5 544.5L950.5 544.5L951.5 544.4L952.5 544.4L953.5 544.6L954.5 544.7L955.5 544.6L956.5 544.5L957.5 544.7L958.5 545.1L959.5 544.6L960.5 544.7L961.5 544.7L962.5 544.2L963.5 544.7L964.5 544.5L965.5 544.9L966.5 544.6L967.5 544.5L968.5 544.6L969.5 544.7L970.5 544.6L971.5 544.7L972.5 544.4L973.5 544.6L974.5 544.8L975.5 545.0L976.5 544.8L977.5 544.7" stroke="#fb0207" stroke-width="6"/></g>
<g clip-path="url(#low)"><path d="M61.5 616.0L62.5 616.0L63.5 616.1L64.5 616.0L65.5 615.8L66.5 615.9L67.5 615.9L68.5 615.9L69.5 615.9L70.5 615.7L71.5 615.5L72.5 615.8L73.5 615.5L74.5 615.9L75.5 615.9L76.5 615.6L77.5 616.0L78.5 616.0L79.5 615.9L80.5 616.1L81.5 616.2L82.5 615.7L83.5 616.0L84.5 615.9L85.5 615.9L86.5 616.0L87.5 615.8L88.5 615.8L89.5 615.7L90.5 615.8L91.5 615.9L92.5 615.6L93.5 615.7L94.5 616.0L95.5 615.9L96.5 615.9L97.5 615.6L98.5 615.8L99.5 615.8L100.5 615.9L101.5 615.8L102.5 616.0L103.5 615.9L104.5 615.9L105.5 615.9L106.5 616.0L107.5 615.8L108.5 616.1L109.5 616.0L110.5 615.9L111.5 615.9L112.5 616.0L113.5 616.1L114.5 616.0L115.5 616.0L116.5 616.0L117.5 615.9L118.5 616.1L119.5 615.9L120.5 615.6L121.5 616.1L122.5 615.9L123.5 615.7L124.5 615.9L125.5 615.8L126.5 616.2L127.5 616.0L128.5 615.7L129.5 616.0L130.5 615.8L131.5 616.2L132.5 615.7L133.5 615.6L134.5 615.9L135.5 615.9L136.5 615.8L137.5 615.6L138.5 616.0L139.5 616.2L140.5 615.6L141.5 616.1L142.5 615.8L143.5 616.3L144.5 616.0L145.5 615.9L146.5 616.1L147.5 616.0L148.5 615.8L149.5 616.0L150.5 615.8L151.5 615.6L152.5 616.3L153.5 615.9L154.5 615.8L155.5 616.0L156.5 615.7L157.5 615.7L158.5 615.9L159.5 615.8L160.5 615.9L161.5 616.1L162.5 615.9L163.5 616.0L164.5 616.0L165.5 615.8L166.5 616.0L167.5 615.8L168.5 616.1L169.5 616.0L170.5 615.9L171.5 615.7L172.5 616.0L173.5 615.8L174.5 616.1L175.5 615.9L176.5 615.8L177.5 616.1L178.5 616.1L179.5 615.9L180.5 616.1L181.5 615.9L182.5 615.9L183.5 616.0L184.5 615.8L185.5 615.9L186.5 615.9L187.5 616.2L188.5 616.2L189.5 615.9L190.5 616.2L191.5 616.0L192.5 616.0L193.5 616.1L194.5 616.0L195.5 616.3L196.5 616.0L197.5 615.8L198.5 616.2L199.5 615.9L200.5 615.9L201.5 615.5L202.5 616.1L203.5 616.1L204.5 616.1L205.5 616.1L206.5 616.2L207.5 616.0L208.5 616.1L209.5 615.9L210.5 615.9L211.5 616.1L212.5 616.0L213.5 615.8L214.5 616.0L215.5 615.9L216.5 615.8L217.5 616.0L218.5 615.9L219.5 615.7L220.5 615.8L221.5 616.3L222.5 615.7L223.5 616.0L224.5 616.1L225.5 616.1L226.5 615.8L227.5 615.9L228.5 616.0L229.5 616.1L230.5 615.9L231.5 615.8L232.5 616.2L233.5 616.2L234.5 616.1L235.5 615.9L236.5 616.1L237.5 616.0L238.5 616.1L239.5 615.8L240.5 616.0L241.5 616.0L242.5 615.8L243.5 616.0L244.5 616.0L245.5 615.9L246.5 616.1L247.5 615.8L248.5 616.0L249.5 616.1L250.5 616.1L251.5 616.2L252.5 615.8L253.5 615.8L254.5 616.0L255.5 616.1L256.5 616.3L257.5 616.1L258.5 615.9L259.5 616.1L260.5 615.9L261.5 615.8L262.5 616.4L263.5 616.1L264.5 616.1L265.5 616.1L266.5 616.3L267.5 616.1L268.5 616.2L269.5 615.9L270.5 615.8L271.5 616.3L272.5 616.3L273.5 616.1L274.5 616.1L275.5 616.1L276.5 615.9L277.5 616.3L278.5 616.1L279.5 616.1L280.5 616.1L281.5 616.2L282.5 616.1L283.5 616.2L284.5 615.8L285.5 616.1L286.5 616.4L287.5 616.0L288.5 616.0L289.5 616.2L290.5 616.2L291.5 616.1L292.5 615.8L293.5 616.1L294.5 615.9L295.5 615.9L296.5 616.1L297.5 616.0L298.5 616.2L299.5 616.5L300.5 616.2L301.5 616.2L302.5 615.9L303.5 615.9L304.5 615.9L305.5 616.0L306.5 615.9L307.5 615.9L308.5 616.0L309.5 615.9L310.5 615.8L311.5 615.8L312.5 616.1L313.5 616.1L314.5 616.2L315.5 616.2L316.5 616.0L317.5 616.2L318.5 615.8L319.5 616.4L320.5 616.3L321.5 616.0L322.5 615.9L323.5 616.1L324.5 615.8L325.5 615.9L326.5 616.2L327.5 616.1L328.5 616.0L329.5 616.2L330.5 615.9L331.5 616.1L332.5 616.0L333.5 615.9L334.5 616.2L335.5 615.9L336.5 616.4L337.5 616.0L338.5 616.4L339.5 615.9L340.5 616.2L341.5 615.9L342.5 615.9L343.5 616.1L344.5 616.2L345.5 615.9L346.5 616.3L347.5 616.0L348.5 616.1L349.5 616.2L350.5 616.2L351.5 615.8L352.5 616.4L353.5 616.2L354.5 616.0L355.5 615.9L356.5 615.8L357.5 615.9L358.5 616.2L359.5 616.0L360.5 615.9L361.5 616.0L362.5 616.3L363.5 616.0L364.5 616.0L365.5 616.3L366.5 616.2L367.5 616.1L368.5 616.0L369.5 615.8L370.5 615.9L371.5 616.0L372.5 616.0L373.5 616.1L374.5 616.2L375.5 616.1L376.5 616.1L377.5 615.9L378.5 615.7L379.5 615.9L380.5 615.9L381.5 615.9L382.5 616.0L383.5 615.8L384.5 615.8L385.5 615.9L386.5 615.9L387.5 615.8L388.5 615.9L389.5 615.7L390.5 615.5L391.5 615.6L392.5 615.7L393.5 615.1L394.5 615.2L395.5 614.8L396.5 614.1L397.5 612.4L398.5 609.1L399.5 598.0L400.5 579.3L401.5 572.4L402.5 589.2L403.5 604.6L404.5 611.2L405.5 613.6L406.5 614.2L407.5 614.6L408.5 615.3L409.5 615.5L410.5 615.7L411.5 615.5L412.5 615.9L413.5 615.9L414.5 616.1L415.5 615.7L416.5 616.0L417.5 615.9L418.5 615.7L419.5 615.9L420.5 616.2L421.5 616.0L422.5 615.9L423.5 616.2L424.5 616.2L425.5 616.2L426.5 615.9L427.5 616.0L428.5 616.2L429.5 615.9L430.5 615.8L431.5 615.9L432.5 615.7L433.5 614.5L434.5 612.7L435.5 611.9L436.5 613.0L437.5 614.6L438.5 615.6L439.5 615.8L440.5 615.9L441.5 616.1L442.5 615.9L443.5 616.1L444.5 616.0L445.5 616.6L446.5 616.3L447.5 616.0L448.5 616.0L449.5 616.1L450.5 615.9L451.5 616.1L452.5 616.1L453.5 616.3L454.5 616.1L455.5 616.1L456.5 616.0L457.5 616.0L458.5 616.2L459.5 616.2L460.5 616.4L461.5 616.1L462.5 616.4L463.5 616.3L464.5 616.2L465.5 615.9L466.5 616.0L467.5 616.3L468.5 616.4L469.5 616.2L470.5 616.3L471.5 616.1L472.5 616.2L473.5 616.1L474.5 616.4L475.5 616.3L476.5 616.2L477.5 616.2L478.5 616.3L479.5 616.3L480.5 616.1L481.5 616.5L482.5 616.3L483.5 616.2L484.5 616.4L485.5 616.4L486.5 616.2L487.5 616.3L488.5 616.0L489.5 616.1L490.5 615.8L491.5 616.4L492.5 615.9L493.5 616.3L494.5 616.1L495.5 616.0L496.5 616.2L497.5 616.2L498.5 616.3L499.5 616.5L500.5 616.3L501.5 616.3L502.5 616.1L503.5 616.3L504.5 616.2L505.5 616.1L506.5 616.2L507.5 616.2L508.5 616.2L509.5 616.2L510.5 616.1L511.5 616.1L512.5 616.3L512.8 615.9L513 616.0L513.2 616.4L513.5 615.7L513.8 616.0L514 616.2L514.2 615.7L514.5 616.3L514.8 615.1L515 614.5L515.2 611.2L515.5 606.1L515.8 603.2L516 606.0L516.2 610.8L516.5 614.4L516.8 615.4L517 615.9L517.2 616.2L517.5 615.9L517.8 616.0L518 616.1L518.2 615.9L518.5 616.3L518.8 616.2L519.5 615.9L520.5 616.2L521.5 616.0L522.5 616.1L523.5 616.2L524.5 616.1L525.5 616.3L526.5 616.1L527.5 616.3L528.5 616.2L529.5 616.3L530.5 616.1L531.5 616.1L532.5 616.0L533.5 616.3L534.5 616.3L535.5 616.5L536.5 616.4L537.5 616.2L538.5 616.1L539.5 616.2L540.5 616.2L541.5 616.4L542.5 616.3L543.5 616.0L544.5 616.1L545.5 616.4L546.5 616.2L547.5 616.1L548.5 616.4L549.5 616.1L550.5 616.1L551.5 616.1L552.5 615.8L553.5 616.3L554.5 616.0L555.5 616.1L556.5 616.0L557.5 616.3L558.5 616.1L559.5 616.2L560.5 615.9L561.5 616.1L562.5 615.9L563.5 616.2L564.5 616.2L565.5 616.1L566.5 616.5L567.5 616.2L568.5 616.2L569.5 616.2L570.5 616.1L571.5 616.3L572.5 616.3L573.5 615.9L574.5 616.3L575.5 616.2L576.5 616.3L577.5 616.2L578.5 615.9L579.5 615.9L580.5 616.4L581.5 616.2L582.5 615.9L583.5 616.2L584.5 616.1L585.5 615.8L586.5 615.7L587.5 615.9L588.5 616.1L589.5 616.1L590.5 616.1L591.5 616.1L592.5 616.2L593.5 615.7L594.5 616.0L595.5 615.9L596.5 615.8L597.5 615.9L598.5 616.0L599.5 615.9L600.5 615.7L601.5 615.8L602.5 616.1L603.5 615.4L604.5 614.9L605.5 614.1L606.5 611.8L607.5 608.8L608.5 608.5L609.5 611.8L610.5 614.0L611.5 615.0L612.5 615.5L613.5 615.7L614.5 616.0L615.5 616.0L616.5 615.9L617.5 616.1L618.5 616.0L619.5 616.2L620.5 615.8L621.5 615.8L622.5 616.2L623.5 615.8L624.5 616.0L625.5 616.1L626.5 616.0L627.5 616.0L628.5 616.3L629.5 615.7L630.5 616.2L631.5 616.4L632.5 616.1L633.5 616.1L634.5 616.2L635.5 616.4L636.5 615.9L637.5 616.1L638.5 616.1L639.5 616.2L640.5 616.1L641.5 616.2L642.5 616.0L643.5 616.1L644.5 616.0L645.5 616.0L646.5 616.1L647.5 616.1L648.5 615.9L649.5 616.3L650.5 616.1L651.5 615.9L652.5 616.3L653.5 616.0L654.5 616.2L655.5 616.1L656.5 616.1L657.5 616.1L658.5 616.0L659.5 616.1L660.5 616.4L661.5 615.7L662.5 616.1L663.5 616.1L664.5 615.9L665.5 615.9L666.5 616.4L667.5 616.0L668.5 616.4L669.5 616.2L670.5 616.1L671.5 616.1L672.5 616.2L673.5 616.3L674.5 616.1L675.5 616.1L676.5 616.1L677.5 616.3L678.5 616.2L679.5 615.9L680.5 616.0L681.5 616.1L682.5 616.0L683.5 616.0L684.5 615.9L685.5 616.0L686.5 616.1L687.5 616.2L688.5 616.1L689.5 616.4L690.5 616.0L691.5 616.6L692.5 616.2L693.5 616.1L694.5 616.0L695.5 615.6L696.5 616.0L697.5 616.1L698.5 616.4L699.5 615.8L700.5 616.3L701.5 616.0L702.5 616.2L703.5 615.6L704.5 616.1L705.5 616.0L706.5 616.2L707.5 616.1L708.5 615.9L709.5 616.2L710.5 616.2L711.5 616.1L712.5 616.2L713.5 616.2L714.5 616.0L715.5 615.8L716.5 615.8L717.5 616.3L718.5 616.2L719.5 616.1L720.5 616.0L721.5 616.0L722.5 616.0L723.5 616.0L724.5 615.9L725.5 616.4L726.5 616.1L727.5 615.9L728.5 615.8L729.5 615.9L730.5 616.2L731.5 616.2L732.5 616.0L733.5 616.0L734.5 616.0L735.5 615.9L736.5 616.2L737.5 616.1L738.5 616.4L739.5 615.9L740.5 616.0L741.5 616.2L742.5 616.0L743.5 615.8L744.5 615.9L745.5 616.0L746.5 616.1L747.5 616.0L748.5 616.2L749.5 616.2L750.5 616.1L751.5 616.0L752.5 616.0L753.5 616.1L754.5 616.2L755.5 616.0L756.5 616.1L757.5 615.9L758.5 615.8L759.5 615.8L760.5 616.1L761.5 616.0L762.5 616.2L763.5 616.0L764.5 616.1L765.5 616.1L766.5 616.1L767.5 615.8L768.5 615.8L769.5 615.8L770.5 615.6L771.5 615.8L772.5 615.8L773.5 615.4L774.5 615.5L775.5 614.6L776.5 613.2L777.5 608.9L778.5 601.0L779.5 598.7L780.5 606.0L781.5 612.2L782.5 614.3L783.5 614.9L784.5 615.0L785.5 614.8L786.5 614.5L787.5 613.6L788.5 613.5L789.5 613.8L790.5 615.0L791.5 615.5L792.5 615.8L793.5 615.8L794.5 615.9L795.5 616.0L796.5 616.1L797.5 615.8L798.5 616.0L799.5 616.4L800.5 616.0L801.5 615.9L802.5 615.9L803.5 615.8L804.5 616.2L805.5 616.0L806.5 616.1L807.5 616.3L808.5 616.4L809.5 615.9L810.5 616.2L811.5 616.1L812.5 616.1L813.5 616.1L814.5 616.0L815.5 616.3L816.5 616.1L817.5 616.1L818.5 616.2L819.5 616.2L820.5 616.1L821.5 616.1L822.5 616.3L823.5 616.1L824.5 616.0L825.5 615.9L826.5 616.0L827.5 615.9L828.5 616.1L829.5 616.1L830.5 615.7L831.5 616.0L832.5 616.1L833.5 616.1L834.5 615.9L835.5 616.2L836.5 615.9L837.5 615.8L838.5 615.9L839.5 616.0L840.5 616.2L841.5 616.2L842.5 616.1L843.5 615.9L844.5 615.9L845.5 615.9L846.5 616.0L847.5 615.8L848.5 616.1L849.5 616.1L850.5 616.0L851.5 616.1L852.5 615.9L853.5 615.8L854.5 615.9L855.5 616.2L856.5 616.2L857.5 616.0L858.5 616.2L859.5 616.0L860.5 616.3L861.5 616.1L862.5 616.0L863.5 616.2L864.5 615.9L865.5 615.9L866.5 615.8L867.5 616.1L868.5 616.0L869.5 616.0L870.5 616.0L871.5 616.3L872.5 616.0L873.5 615.9L874.5 616.2L875.5 616.3L876.5 616.1L877.5 615.8L878.5 615.9L879.5 616.1L880.5 616.0L881.5 616.3L882.5 615.8L883.5 616.2L884.5 615.9L885.5 616.3L886.5 616.0L887.5 616.2L888.5 615.9L889.5 615.8L890.5 615.9L891.5 615.9L892.5 615.9L893.5 616.2L894.5 616.3L895.5 616.1L896.5 615.9L897.5 616.0L898.5 615.9L899.5 616.3L900.5 616.1L901.5 616.1L902.5 616.0L903.5 615.7L904.5 615.9L905.5 615.9L906.5 616.1L907.5 616.0L908.5 615.9L909.5 616.0L910.5 616.3L911.5 615.9L912.5 615.9L913.5 616.0L914.5 615.9L915.5 615.9L916.5 616.1L917.5 616.3L918.5 615.7L919.5 616.0L920.5 616.0L921.5 616.0L922.5 616.0L923.5 615.9L924.5 616.1L925.5 615.9L926.5 615.9L927.5 615.9L928.5 615.9L929.5 615.8L930.5 616.0L931.5 615.7L932.5 615.6L933.5 615.3L934.5 614.6L935.5 613.4L936.5 611.2L937.5 609.3L938.5 609.1L939.5 611.2L940.5 613.6L941.5 614.9L942.5 615.1L943.5 615.9L944.5 615.7L945.5 615.8L946.5 616.0L947.5 615.9L948.5 615.8L949.5 616.3L950.5 615.8L951.5 615.9L952.5 616.1L953.5 615.8L954.5 616.0L955.5 616.1L956.5 616.4L957.5 615.9L958.5 616.0L959.5 616.1L960.5 616.0L961.5 615.8L962.5 616.1L963.5 616.0L964.5 616.1L965.5 616.2L966.5 616.2L967.5 616.1L968.5 616.1L969.5 615.9L970.5 616.0L971.5 616.1L972.5 616.0L973.5 616.1L974.5 615.9L975.5 616.3L976.5 616.4L977.5 616.0" stroke="#0000f5" stroke-width="5.9"/></g>
</g>
<path d="M61.2 342.5V9.3H977.9V342.5M977.9 354.2V687.0H61.2V354.2" fill="none" stroke="#000" stroke-width="2.6" stroke-linejoin="miter"/>
<path d="M175.7 687V672.6" stroke="#000" stroke-width="2.2"/>
<path d="M290.3 687V679.5" stroke="#000" stroke-width="2.2"/>
<path d="M404.9 687V672.6" stroke="#000" stroke-width="2.2"/>
<path d="M519.5 687V679.5" stroke="#000" stroke-width="2.2"/>
<path d="M634.1 687V672.6" stroke="#000" stroke-width="2.2"/>
<path d="M748.7 687V679.5" stroke="#000" stroke-width="2.2"/>
<path d="M863.3 687V672.6" stroke="#000" stroke-width="2.2"/>
<path d="M47.4 348.2L74.6 336.6" stroke="#000" stroke-width="2.3" stroke-linecap="round"/>
<path d="M47.4 359.7L74.6 348.1" stroke="#000" stroke-width="2.3" stroke-linecap="round"/>
<path d="M964.4 348.3L991.6 336.7" stroke="#000" stroke-width="2.3" stroke-linecap="round"/>
<path d="M964.4 359.8L991.6 348.2" stroke="#000" stroke-width="2.3" stroke-linecap="round"/>
<text class="s" transform="translate(155.24 733.15)" font-size="40.63" style="font-weight:bold">20</text>
<text class="s" transform="translate(385.68 733.15) scale(0.969 1)" font-size="40.63" style="font-weight:bold">40</text>
<text class="s" transform="translate(614.06 733.15) scale(0.990 1)" font-size="40.63" style="font-weight:bold">60</text>
<text class="s" transform="translate(843.26 733.15) scale(0.990 1)" font-size="40.63" style="font-weight:bold">80</text>
<text class="s" transform="translate(37.6 435.8) rotate(-90)" font-size="46.4" style="font-weight:bold">Intensity(a.u.)</text>
<text class="y" transform="translate(868.14 59.90) scale(1.042 1)" font-size="31.38">♦</text>
<text class="s" transform="translate(897.70 59.49) scale(0.983 1)" font-size="40.69">Cu</text>
<text class="m" transform="translate(870.08 115.43) scale(1.128 1)" font-size="36.83">♣</text>
<text class="s" transform="translate(899.30 112.93) scale(0.937 1)" font-size="39.95">W</text>
<text class="y" transform="translate(869.35 166.90) scale(0.981 1)" font-size="30.00">♥</text>
<text class="s" transform="translate(907.55 166.89) scale(1.012 1)" font-size="40.69">C</text>
<text class="y" transform="translate(869.09 199.06)" font-size="19.00">●</text>
<text class="s" transform="translate(899.30 205.32) scale(0.942 1)" font-size="40.59">WC</text>
<text class="y" transform="translate(237.90 41.60) scale(0.958 1)" font-size="30.14">♥</text>
<text class="m" transform="translate(397.84 355.32) scale(1.124 1)" font-size="36.67">♣</text>
<text class="m" transform="translate(601.89 418.57) scale(1.124 1)" font-size="36.67">♣</text>
<text class="m" transform="translate(772.64 406.82) scale(1.124 1)" font-size="36.67">♣</text>
<text class="m" transform="translate(933.89 428.57) scale(1.124 1)" font-size="36.67">♣</text>
<text class="m" transform="translate(397.64 461.32) scale(1.124 1)" font-size="36.67">♣</text>
<text class="m" transform="translate(602.14 524.82) scale(1.124 1)" font-size="36.67">♣</text>
<text class="m" transform="translate(776.39 512.82) scale(1.124 1)" font-size="36.67">♣</text>
<text class="m" transform="translate(928.89 534.82) scale(1.124 1)" font-size="36.67">♣</text>
<text class="m" transform="translate(390.89 571.07) scale(1.124 1)" font-size="36.67">♣</text>
<text class="m" transform="translate(596.74 606.07) scale(1.124 1)" font-size="36.67">♣</text>
<text class="m" transform="translate(767.94 595.52) scale(1.124 1)" font-size="36.67">♣</text>
<text class="m" transform="translate(926.94 606.07) scale(1.124 1)" font-size="36.67">♣</text>
<text class="y" transform="translate(428.78 431.90) scale(1.077 1)" font-size="29.86">♦</text>
<text class="y" transform="translate(500.68 424.70) scale(1.077 1)" font-size="29.86">♦</text>
<text class="y" transform="translate(428.83 536.25) scale(1.077 1)" font-size="29.86">♦</text>
<text class="y" transform="translate(500.58 529.50) scale(1.077 1)" font-size="29.86">♦</text>
<text class="y" transform="translate(422.58 606.75) scale(1.077 1)" font-size="29.86">♦</text>
<text class="y" transform="translate(501.83 601.25) scale(1.077 1)" font-size="29.86">♦</text>
<text class="y" transform="translate(301.35 427.84)" font-size="18.73">●</text>
<text class="y" transform="translate(345.75 428.14)" font-size="18.73">●</text>
<text class="y" transform="translate(491.95 427.84)" font-size="18.73">●</text>
<text class="y" transform="translate(302.60 534.09)" font-size="18.73">●</text>
<text class="y" transform="translate(349.35 534.09)" font-size="18.73">●</text>
<text class="y" transform="translate(491.85 536.09)" font-size="18.73">●</text>
</svg>
<div class="xl"><span style="left:467.28px;top:720.76px;font-size:55.33px;transform-origin:0 46.34px;transform:scaleX(1.01);font-weight:bold;">2</span><span style="left:498.60px;top:720.00px;font-size:57.20px;transform-origin:0 47.91px;transform:skewX(-7deg) scale(1.1,1.02);font-style:italic;-webkit-text-stroke:0.7px #000;">θ</span><span style="left:528.07px;top:721.07px;font-size:55.02px;transform-origin:0 46.08px;transform:scaleX(0.935);">(</span><span style="left:543.28px;top:726.98px;font-size:51.76px;transform-origin:0 43.35px;">°</span><span style="left:562.63px;top:721.07px;font-size:55.02px;transform-origin:0 46.08px;transform:scaleX(1.02);">)</span></div>
</body></html>
